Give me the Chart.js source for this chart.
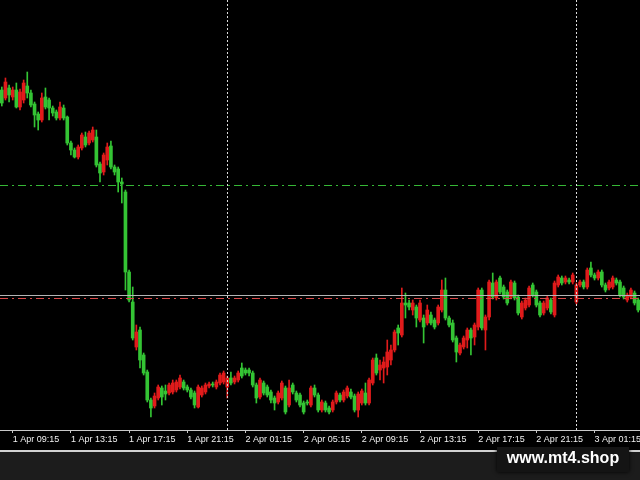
<!DOCTYPE html>
<html>
<head>
<meta charset="utf-8">
<script src="https://cdn.jsdelivr.net/npm/chart.js@4.4.1/dist/chart.umd.min.js"></script>
<style>
  html, body { margin: 0; padding: 0; background: #1c1c1c; }
  #wrap { position: relative; width: 640px; height: 480px; overflow: hidden; }
  #chart { position: absolute; left: 0; top: 0; background: #000; }
  #rule { position: absolute; left: 0; top: 450px; width: 640px; height: 2px; background: #d2d2d2; }
  #mark {
    position: absolute; left: 497px; top: 447px; width: 132px; height: 25px;
    background: #141414; box-shadow: 0 0 4px #000;
    color: #fff; font: bold 16px "Liberation Sans", Arial, sans-serif;
    text-align: center; line-height: 22px;
  }
</style>
</head>
<body>
<div id="wrap">
  <canvas id="chart" width="640" height="450"></canvas>
  <div id="rule"></div>
  <div id="mark">www.mt4.shop</div>
</div>
<script>
  // M15 bars, 1 Apr 08:30 onwards
  const times = [];
  for (let i = 0; i < 176; i++) {
    const m = 8 * 60 + 30 + i * 15;
    const day = 1 + Math.floor(m / 1440);
    const mm = m % 1440;
    const hh = String(Math.floor(mm / 60)).padStart(2, '0');
    const mi = String(mm % 60).padStart(2, '0');
    times.push(day + ' Apr ' + hh + ':' + mi);
  }

  const tickLabels = ['1 Apr 09:15', '1 Apr 13:15', '1 Apr 17:15', '1 Apr 21:15', '2 Apr 01:15',
    '2 Apr 05:15', '2 Apr 09:15', '2 Apr 13:15', '2 Apr 17:15', '2 Apr 21:15', '3 Apr 01:15'];
  const daySeparators = ['2 Apr 00:00', '3 Apr 00:00'];

  const opens = [
    1010,1002,1012,1003,1010,993,1000,1014,1007,996,
    986,980,1003,1000,992,988,982,992,983,957,
    950,943,952,963,957,960,963,936,928,940,
    954,933,931,918,908,828,798,753,770,745,
    728,700,694,702,712,709,707,708,710,713,
    718,713,710,707,693,705,708,714,716,713,
    717,718,713,722,718,720,732,730,730,727,
    715,703,717,713,708,702,698,702,712,695,
    715,707,705,697,698,695,712,705,690,697,
    692,690,698,705,700,704,708,704,690,697,
    707,697,717,742,730,732,733,740,750,772,
    765,797,797,790,793,780,782,777,785,780,
    777,790,810,782,777,762,747,753,760,770,
    763,773,810,770,783,817,802,822,813,808,
    803,817,803,783,792,795,815,808,797,787,
    792,800,785,815,822,818,820,818,798,815,
    818,813,832,825,822,828,815,812,813,820,
    818,812,800,803,807,800
  ];
  const highs = [
    1013,1022,1015,1013,1017,1011,1020,1028,1010,998,
    988,1007,1012,1002,994,990,998,995,984,959,
    952,955,967,968,969,973,970,938,947,957,
    959,935,933,922,910,830,813,775,773,747,
    730,702,707,715,714,715,717,720,720,725,
    720,715,712,709,715,714,717,718,718,720,
    727,729,724,728,724,729,737,732,732,729,
    717,722,719,715,710,704,709,719,714,720,
    717,709,707,699,700,714,715,707,700,699,
    694,700,709,707,710,714,711,706,708,711,
    717,722,742,746,740,743,760,755,770,775,
    812,807,800,800,795,800,785,795,788,782,
    795,820,822,784,780,764,757,764,772,772,
    777,812,812,785,820,827,820,824,815,810,
    820,819,805,799,802,814,817,810,799,799,
    804,802,819,825,824,824,822,827,817,820,
    820,832,838,827,830,830,817,820,824,822,
    820,814,807,812,809,802
  ];
  const lows = [
    994,1000,998,1000,992,990,997,1002,993,973,
    970,978,991,980,984,980,980,980,955,945,
    942,941,950,953,955,958,933,918,925,935,
    931,925,908,897,810,798,760,750,732,725,
    698,683,692,700,695,700,705,706,708,711,
    710,708,701,692,692,703,706,712,713,711,
    715,716,702,715,716,718,722,725,724,713,
    697,701,705,703,697,690,696,700,686,693,
    706,698,693,686,695,693,703,688,688,688,
    686,688,696,698,698,702,701,688,683,695,
    695,695,715,725,720,717,725,735,748,755,
    763,782,790,785,773,778,757,775,775,771,
    775,788,780,773,758,738,745,751,752,745,
    755,770,770,750,780,801,800,806,801,795,
    801,800,785,781,790,793,803,793,783,785,
    790,786,783,813,815,816,816,816,796,813,
    811,811,823,820,820,813,808,810,811,815,
    803,801,798,801,795,788
  ];
  const closes = [
    997,1018,1005,1010,993,1008,1017,1007,995,985,
    980,1002,993,992,987,982,993,982,957,950,
    943,953,965,955,967,970,935,927,945,953,
    933,928,918,916,828,800,762,768,740,727,
    700,692,704,713,703,706,715,717,718,722,
    712,710,703,695,713,712,715,716,715,718,
    725,727,722,717,722,727,724,727,727,715,
    702,720,707,705,700,697,707,717,688,712,
    708,700,695,688,697,712,705,690,698,690,
    688,698,707,700,708,712,703,690,706,709,
    697,720,740,727,735,738,748,750,768,767,
    797,795,793,797,782,797,773,790,777,773,
    793,810,782,775,760,748,755,762,770,762,
    775,810,772,783,818,803,818,808,803,797,
    818,802,787,797,800,812,805,795,785,797,
    802,788,817,823,817,822,818,825,815,818,
    813,830,825,822,828,815,810,818,822,817,
    805,803,805,810,797,790
  ];

  // price levels: user line, bid, ask
  const levels = [915, 805, 802];

  const upColor = '#e01b1b';
  const downColor = '#34c434';
  const candleColors = opens.map((o, i) => closes[i] >= o ? upColor : downColor);

  const levelStyles = [
    { color: '#36b836', dash: [8, 4, 2, 4] },
    { color: '#b4b4b4', dash: [] },
    { color: '#d84848', dash: [8, 4, 2, 4] }
  ];

  const overlayLines = {
    id: 'overlayLines',
    afterDatasetsDraw(chart) {
      const ctx = chart.ctx;
      const area = chart.chartArea;
      const x = chart.scales.x, y = chart.scales.y;
      ctx.save();
      ctx.lineWidth = 1;
      levels.forEach((lv, i) => {
        const py = Math.round(y.getPixelForValue(lv)) + 0.5;
        ctx.strokeStyle = levelStyles[i].color;
        ctx.setLineDash(levelStyles[i].dash);
        ctx.beginPath();
        ctx.moveTo(area.left, py);
        ctx.lineTo(area.right, py);
        ctx.stroke();
      });
      ctx.strokeStyle = '#dcdcdc';
      ctx.setLineDash([2, 2]);
      daySeparators.forEach(t => {
        const px = Math.round(x.getPixelForValue(times.indexOf(t))) + 0.5;
        ctx.beginPath();
        ctx.moveTo(px, area.top);
        ctx.lineTo(px, area.bottom);
        ctx.stroke();
      });
      ctx.restore();
    }
  };

  const config = {
    type: 'bar',
    data: {
      labels: times,
      datasets: [
        {
          label: 'body',
          data: opens.map((o, i) => [o, closes[i]]),
          backgroundColor: candleColors,
          barThickness: 3,
          minBarLength: 1,
          grouped: false
        },
        {
          label: 'wick',
          data: lows.map((l, i) => [l, highs[i]]),
          backgroundColor: candleColors,
          barThickness: 1,
          grouped: false
        }
      ]
    },
    options: {
      responsive: false,
      animation: false,
      layout: { padding: 0 },
      plugins: {
        legend: { display: false },
        tooltip: { enabled: false }
      },
      scales: {
        x: {
          offset: true,
          afterFit: function(scale) {
            scale.height = 20;
            scale.paddingLeft = 0;
            scale.paddingRight = 0;
          },
          grid: {
            drawOnChartArea: false,
            drawTicks: true,
            tickLength: 3,
            color: '#c8c8c8',
            offset: false
          },
          border: { display: true, color: '#c8c8c8' },
          ticks: {
            autoSkip: false,
            maxRotation: 0,
            minRotation: 0,
            align: 'start',
            padding: 1,
            color: '#f0f0f0',
            font: { family: 'Liberation Sans', size: 9 },
            callback: function(value) {
              const lab = this.getLabelForValue(value);
              return tickLabels.includes(lab) ? lab : null;
            }
          }
        },
        y: {
          display: false,
          min: 670,
          max: 1100
        }
      }
    },
    plugins: [overlayLines]
  };

  window.onload = function() {
    const ctx = document.getElementById('chart').getContext('2d');
    new Chart(ctx, config);
  };
</script>
</body>
</html>
